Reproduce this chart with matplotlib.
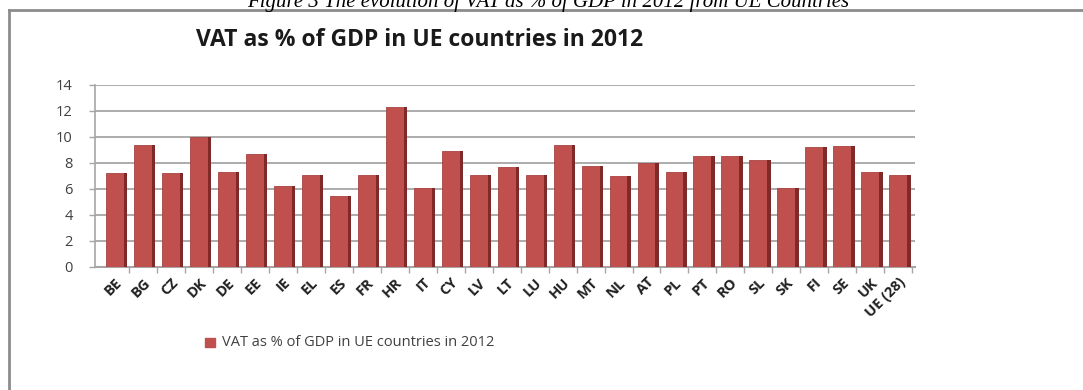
import numpy as np
import matplotlib.pyplot as plt
from matplotlib.lines import Line2D

# ── Data ──────────────────────────────────────────────────────────────────────
COUNTRIES = ["BE", "BG", "CZ", "DK", "DE", "EE", "IE", "EL", "ES", "FR",
             "HR", "IT", "CY", "LV", "LT", "LU", "HU", "MT", "NL", "AT",
             "PL", "PT", "RO", "SL", "SK", "FI", "SE", "UK", "UE (28)"]
VAT_PCT = [7.2, 9.4, 7.2, 10.0, 7.3, 8.7, 6.2, 7.1, 5.5, 7.05,
           12.3, 6.1, 8.95, 7.1, 7.7, 7.1, 9.4, 7.8, 7.0, 8.0,
           7.3, 8.55, 8.55, 8.25, 6.1, 9.2, 9.3, 7.3, 7.1]
Y_TICKS = [0, 2, 4, 6, 8, 10, 12, 14]

TITLE = "VAT as % of GDP in UE countries in 2012"
CAPTION = "Figure 3 The evolution of VAT as % of GDP in 2012 from UE Countries"

# ── Style ─────────────────────────────────────────────────────────────────────
FONT = ["Open Sans", "DejaVu Sans"]
BAR_FACE = "#C0504D"
BAR_SIDE = "#7F2A28"
GRID = "#A6A6A6"
TXT = "#404040"

W, H = 1083, 390
fig = plt.figure(figsize=(W / 100, H / 100), dpi=100)
fig.patch.set_facecolor("white")

# axes placed in pixel terms: x 95..915, y 85..267 (from top)
ax = fig.add_axes([95 / W, 1 - 267 / H, (915 - 95) / W, (267 - 85) / H])

x = np.arange(len(COUNTRIES))
ax.bar(x, VAT_PCT, width=0.64, color=BAR_FACE, edgecolor="#A84341",
       linewidth=0.6, zorder=3)
# darker side face to hint the 3-D look of the original
ax.bar(x + 0.32 + 0.06, VAT_PCT, width=0.12, color=BAR_SIDE,
       linewidth=0, zorder=3)

ax.set_xlim(-0.72, 28.6)
ax.set_ylim(0, 14)
ax.set_yticks(Y_TICKS)
ax.set_yticklabels([str(t) for t in Y_TICKS], fontsize=10.5, color=TXT,
                   family=FONT)
ax.yaxis.grid(True, color=GRID, lw=1.3, zorder=0)
ax.set_axisbelow(True)

ax.set_xticks(x)
ax.set_xticklabels(COUNTRIES, rotation=45, ha="right", rotation_mode="anchor",
                   fontsize=10.5, fontweight="bold", color="#202020", family=FONT)
ax.tick_params(axis="x", length=0, pad=6)
ax.set_xticks(x + 0.5, minor=True)
ax.tick_params(axis="x", which="minor", length=4, color=GRID, width=1)
ax.tick_params(axis="y", length=4, color=GRID, width=1, pad=12)

for side in ["top", "right"]:
    ax.spines[side].set_visible(False)
ax.spines["left"].set_color(GRID)
ax.spines["bottom"].set_color(GRID)
ax.spines["left"].set_linewidth(1.2)
ax.spines["bottom"].set_linewidth(1.5)

# ── Texts ─────────────────────────────────────────────────────────────────────
fig.text(420 / W, 1 - 40 / H, TITLE, ha="center", va="center",
         fontsize=16.5, fontweight="bold", color="#1a1a1a", family=FONT)

# caption of the source document, cut off at the top edge as in the original
fig.text(548 / W, 1 - 7 / H, CAPTION, ha="center", va="baseline",
         fontsize=15, style="italic", color="black",
         family=["Liberation Serif", "DejaVu Serif"])

# legend
fig.patches.append(plt.Rectangle((205 / W, 1 - 347 / H), 10 / W, 9 / H,
                                 transform=fig.transFigure,
                                 color=BAR_FACE, zorder=5))
fig.text(222 / W, 1 - 343 / H, TITLE, ha="left", va="center",
         fontsize=10.5, color=TXT, family=FONT)

# chart frame (left and top edges of the embedded chart box)
fig.add_artist(Line2D([9 / W, 9 / W], [0, 1 - 10 / H],
                      transform=fig.transFigure, color="#8C8C8C", lw=2))
fig.add_artist(Line2D([9 / W, 1], [1 - 10 / H, 1 - 10 / H],
                      transform=fig.transFigure, color="#8C8C8C", lw=2))

fig.savefig("out.png", dpi=100, facecolor="white")
